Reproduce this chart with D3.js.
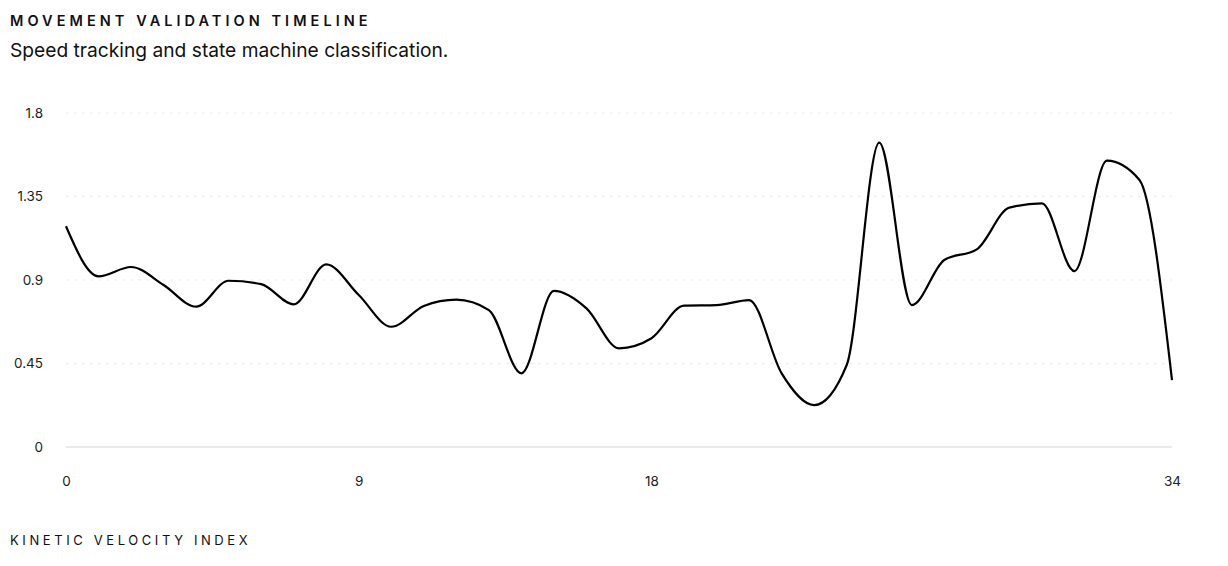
<!DOCTYPE html>
<html><head><meta charset="utf-8">
<script src="https://cdn.jsdelivr.net/npm/d3@7"></script>
<style>
html,body{margin:0;padding:0;background:#fff;}
svg{display:block;font-family:Inter,"Noto Sans",sans-serif;}
</style></head>
<body>
<svg id="chart" width="1228" height="566"></svg>
<script>
const xIndex = d3.range(0, 35);
const speedValues = [1.19, 0.92, 0.97, 0.873, 0.756, 0.896, 0.878, 0.769, 0.984, 0.819,
  0.648, 0.76, 0.794, 0.738, 0.397, 0.841, 0.747, 0.532, 0.586, 0.762,
  0.765, 0.792, 0.397, 0.226, 0.442, 1.64, 0.765, 1.008, 1.065, 1.29,
  1.313, 0.948, 1.543, 1.439, 0.361];
const yTicks = [0, 0.45, 0.9, 1.35, 1.8];
const xTicks = [0, 9, 18, 34];
const titleText = "MOVEMENT VALIDATION TIMELINE";
const subtitleText = "Speed tracking and state machine classification.";
const axisTitle = "KINETIC VELOCITY INDEX";

const svg = d3.select("#chart");
const x = d3.scaleLinear().domain([0, 34]).range([66, 1172]);
const y = d3.scaleLinear().domain([0, 1.8]).range([447, 113]);

svg.append("text").attr("x", 10).attr("y", 26)
  .attr("font-size", 14.5).attr("font-weight", 600).attr("letter-spacing", "4.05px")
  .attr("fill", "#111").text(titleText);
svg.append("text").attr("x", 10).attr("y", 57)
  .attr("font-size", 19.2).attr("fill", "#111").text(subtitleText);

// grid
svg.append("g").selectAll("line").data(yTicks.filter(d => d > 0)).join("line")
  .attr("x1", 66).attr("x2", 1172)
  .attr("y1", d => y(d)).attr("y2", d => y(d))
  .attr("stroke", "#ececec").attr("stroke-width", 1).attr("stroke-dasharray", "3,5");
svg.append("line").attr("x1", 66).attr("x2", 1172).attr("y1", y(0)).attr("y2", y(0))
  .attr("stroke", "#e4e4e4").attr("stroke-width", 1.5);

// y axis
const yAxis = d3.axisLeft(y).tickValues(yTicks).tickSize(0).tickPadding(0)
  .tickFormat(d => String(d));
const yg = svg.append("g").attr("transform", "translate(43,0)").call(yAxis);
yg.select(".domain").remove();
yg.selectAll("text").attr("font-size", 13.5).attr("fill", "#222")
  .attr("font-family", "Inter, 'Noto Sans', sans-serif");

// x axis
const xAxis = d3.axisBottom(x).tickValues(xTicks).tickSize(0).tickPadding(0)
  .tickFormat(d => String(d));
const xg = svg.append("g").attr("transform", "translate(0,476)").call(xAxis);
xg.select(".domain").remove();
xg.selectAll("text").attr("font-size", 13.5).attr("fill", "#222")
  .attr("font-family", "Inter, 'Noto Sans', sans-serif");

// line
const line = d3.line().x((d, i) => x(xIndex[i])).y(d => y(d)).curve(d3.curveMonotoneX);
svg.append("path").datum(speedValues).attr("d", line)
  .attr("fill", "none").attr("stroke", "#000").attr("stroke-width", 2.2);

svg.append("text").attr("x", 10).attr("y", 545)
  .attr("font-size", 13).attr("letter-spacing", "3.6px")
  .attr("fill", "#111").text(axisTitle);
</script>
</body></html>
